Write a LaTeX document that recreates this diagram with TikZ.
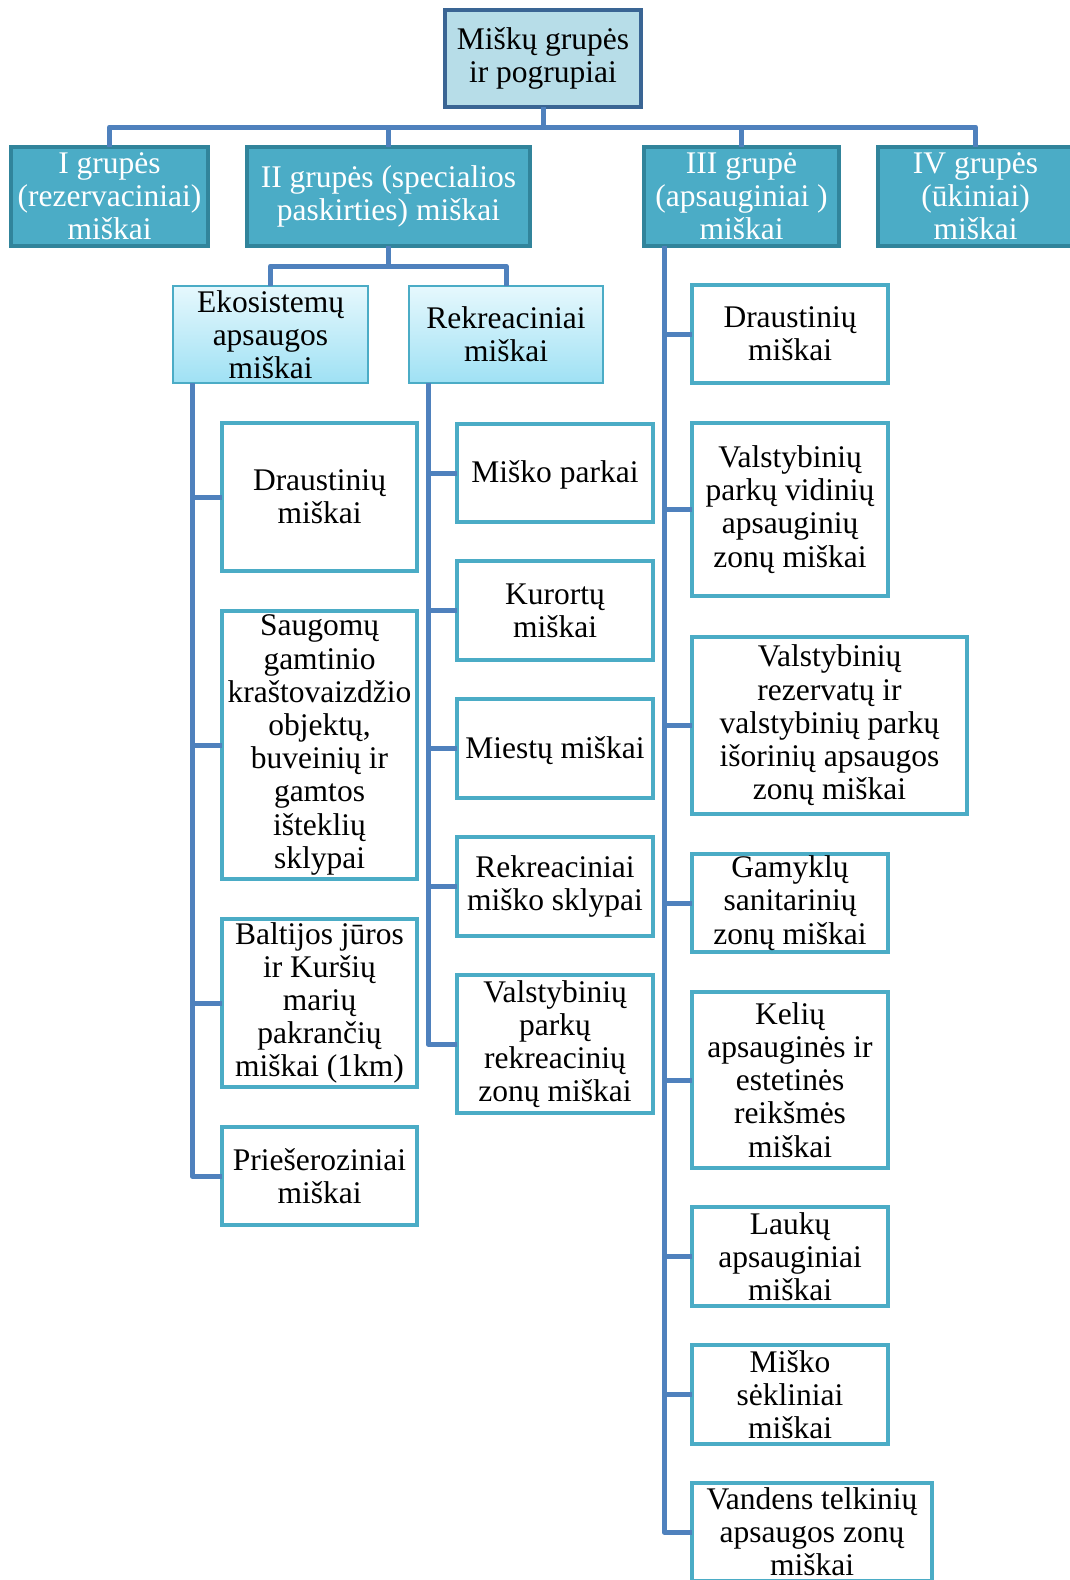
\documentclass[tikz,border=0pt]{standalone}
\usepackage{fontspec}
\setmainfont{Liberation Serif}
\definecolor{connblue}{HTML}{4F81BD}
\definecolor{topfill}{HTML}{B7DDE8}
\definecolor{topedge}{HTML}{3A6594}
\definecolor{grpfill}{HTML}{4BACC6}
\definecolor{grpedge}{HTML}{31849B}
\definecolor{leafedge}{HTML}{4BACC6}
\definecolor{gradtop}{HTML}{E6F8FD}
\definecolor{gradbot}{HTML}{9FE1F4}
\begin{document}
\begin{tikzpicture}[x=1pt,y=-1pt,
  every node/.style={font=\fontsize{31.5}{33.2}\selectfont, align=center, inner sep=0pt, outer sep=0pt,
    execute at begin node={\rule{0pt}{26pt}}},
  rootbox/.style={draw=topedge, fill=topfill, line width=4pt, text=black},
  grpbox/.style={draw=grpedge, fill=grpfill, line width=4.5pt, text=white},
  subbox/.style={draw=leafedge, line width=2.2pt, shade, top color=gradtop, bottom color=gradbot, text=black},
  leafbox/.style={draw=leafedge, fill=white, line width=3.5pt, text=black},
  conn/.style={draw=connblue, line width=5pt, line join=round, line cap=butt}]
\useasboundingbox (0,0) rectangle (1070,1580);
\fill[white] (0,0) rectangle (1070,1580);

% bus levels and trunk lines
\coordinate (bus) at (0,127);
\coordinate (bus2) at (0,266);
\coordinate (tE) at (192,0);
\coordinate (tR) at (428,0);
\coordinate (tT) at (664,0);

% root and groups
\node[rootbox, minimum width=196, minimum height=97] (root) at (543,58.5) {Miškų grupės\\ir pogrupiai};
\node[grpbox, minimum width=197, minimum height=99] (g1) at (109.5,196.5) {I grupės\\(rezervaciniai)\\miškai};
\node[grpbox, minimum width=283, minimum height=99] (g2) at (388.5,196.5) {II grupės (specialios\\paskirties) miškai};
\node[grpbox, minimum width=195, minimum height=99] (g3) at (741.5,196.5) {III grupė\\(apsauginiai )\\miškai};
\node[grpbox, minimum width=195, minimum height=99] (g4) at (975.5,196.5) {IV grupės\\(ūkiniai)\\miškai};

% second group subdivisions
\node[subbox, minimum width=195, minimum height=97] (eko) at (270.5,334.5) {Ekosistemų\\apsaugos\\miškai};
\node[subbox, minimum width=194, minimum height=97] (rek) at (506,334.5) {Rekreaciniai\\miškai};

% ecosystem protection forests
\node[leafbox, minimum width=195, minimum height=148] (e1) at (319.5,497) {Draustinių\\miškai};
\node[leafbox, minimum width=195, minimum height=268] (e2) at (319.5,745) {Saugomų\\gamtinio\\kraštovaizdžio\\objektų,\\buveinių ir\\gamtos\\išteklių\\sklypai};
\node[leafbox, minimum width=195, minimum height=168] (e3) at (319.5,1003) {Baltijos jūros\\ir Kuršių\\marių\\pakrančių\\miškai (1km)};
\node[leafbox, minimum width=195, minimum height=98] (e4) at (319.5,1176) {Priešeroziniai\\miškai};

% recreational forests
\node[leafbox, minimum width=196, minimum height=98] (r1) at (555,473) {Miško parkai};
\node[leafbox, minimum width=196, minimum height=99] (r2) at (555,610.5) {Kurortų\\miškai};
\node[leafbox, minimum width=196, minimum height=99] (r3) at (555,748.5) {Miestų miškai};
\node[leafbox, minimum width=196, minimum height=99] (r4) at (555,886.5) {Rekreaciniai\\miško sklypai};
\node[leafbox, minimum width=196, minimum height=138] (r5) at (555,1044) {Valstybinių\\parkų\\rekreacinių\\zonų miškai};

% third group forests
\node[leafbox, minimum width=196, minimum height=98] (t1) at (790,334) {Draustinių\\miškai};
\node[leafbox, minimum width=196, minimum height=173] (t2) at (790,509.5) {Valstybinių\\parkų vidinių\\apsauginių\\zonų miškai};
\node[leafbox, minimum width=275, minimum height=177] (t3) at (829.5,725.5) {Valstybinių\\rezervatų ir\\valstybinių parkų\\išorinių apsaugos\\zonų miškai};
\node[leafbox, minimum width=196, minimum height=98] (t4) at (790,903) {Gamyklų\\sanitarinių\\zonų miškai};
\node[leafbox, minimum width=196, minimum height=176] (t5) at (790,1080) {Kelių\\apsauginės ir\\estetinės\\reikšmės\\miškai};
\node[leafbox, minimum width=196, minimum height=99] (t6) at (790,1256.5) {Laukų\\apsauginiai\\miškai};
\node[leafbox, minimum width=196, minimum height=99] (t7) at (790,1394.5) {Miško\\sėkliniai\\miškai};
\node[leafbox, minimum width=240, minimum height=98] (t8) at (812,1532) {Vandens telkinių\\apsaugos zonų\\miškai};

% connectors: root to groups
\draw[conn] (root.south) -- (root.south |- bus);
\draw[conn] (g1.north) |- (g4.north |- bus) -- (g4.north);
\draw[conn] (g2.north) -- (g2.north |- bus);
\draw[conn] (g3.north) -- (g3.north |- bus);

% second group to its subdivisions
\draw[conn] (g2.south) -- (g2.south |- bus2);
\draw[conn] (eko.north) |- (rek.north |- bus2) -- (rek.north);

% ecosystem trunk
\draw[conn] (eko.south -| tE) |- (e4.west);
\draw[conn] (tE |- e1.west) -- (e1.west);
\draw[conn] (tE |- e2.west) -- (e2.west);
\draw[conn] (tE |- e3.west) -- (e3.west);

% recreational trunk
\draw[conn] (rek.south -| tR) |- (r5.west);
\draw[conn] (tR |- r1.west) -- (r1.west);
\draw[conn] (tR |- r2.west) -- (r2.west);
\draw[conn] (tR |- r3.west) -- (r3.west);
\draw[conn] (tR |- r4.west) -- (r4.west);

% third group trunk
\draw[conn] (g3.south -| tT) |- (t8.west);
\draw[conn] (tT |- t1.west) -- (t1.west);
\draw[conn] (tT |- t2.west) -- (t2.west);
\draw[conn] (tT |- t3.west) -- (t3.west);
\draw[conn] (tT |- t4.west) -- (t4.west);
\draw[conn] (tT |- t5.west) -- (t5.west);
\draw[conn] (tT |- t6.west) -- (t6.west);
\draw[conn] (tT |- t7.west) -- (t7.west);
\end{tikzpicture}
\end{document}
